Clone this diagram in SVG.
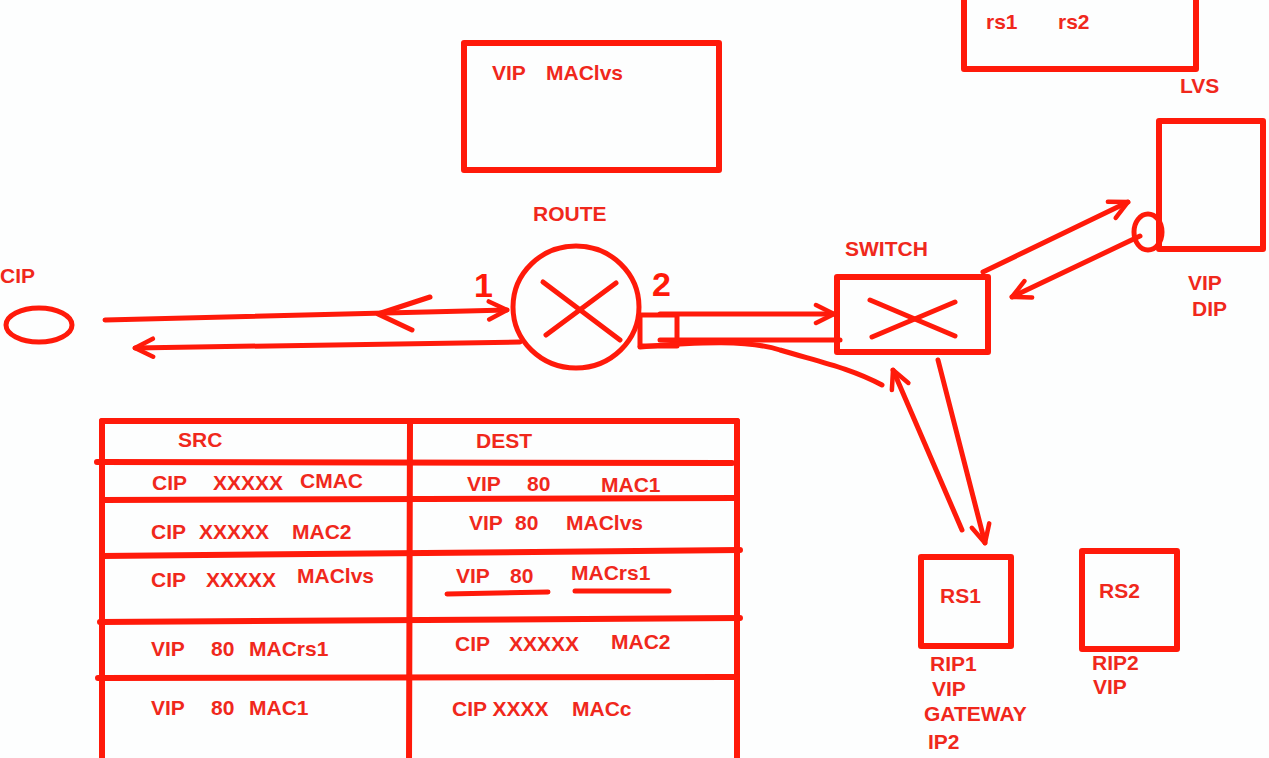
<svg xmlns="http://www.w3.org/2000/svg" width="1269" height="758" viewBox="0 0 1269 758">
<style>
.b{fill:none;stroke:#ff1a0a;stroke-width:6;stroke-linecap:round;stroke-linejoin:round}
.l{fill:none;stroke:#ff1a0a;stroke-width:5;stroke-linecap:round;stroke-linejoin:round}
.t{font-family:"Liberation Sans",Arial,sans-serif;font-weight:bold;font-size:21px;fill:#f0281c}
.n{font-family:"Liberation Sans",Arial,sans-serif;font-weight:bold;font-size:34px;fill:#ff1a0a}
</style>
<defs>
<marker id="arr" viewBox="0 0 24 24" refX="21" refY="12" markerWidth="24" markerHeight="24" markerUnits="userSpaceOnUse" orient="auto">
<path d="M3,3 L21,12 L3,21" fill="none" stroke="#ff1a0a" stroke-width="4.5" stroke-linecap="round" stroke-linejoin="round"/>
</marker>
</defs>
<rect width="1269" height="758" fill="#fdfefe"/>

<g id="vip-box">
<rect class="b" x="464" y="43" width="255" height="127"/>
<text class="t" x="492" y="80">VIP</text>
<text class="t" x="546" y="80">MAClvs</text>
</g>

<g id="rs-box">
<rect class="b" x="964" y="-10" width="232" height="79"/>
<text class="t" x="986" y="29">rs1</text>
<text class="t" x="1058" y="29">rs2</text>
</g>

<g id="lvs">
<text class="t" x="1180" y="93">LVS</text>
<rect class="b" x="1159" y="121" width="104" height="128"/>
<ellipse class="l" cx="1148" cy="232" rx="14" ry="18"/>
<text class="t" x="1188" y="290">VIP</text>
<text class="t" x="1192" y="316">DIP</text>
</g>

<g id="cip">
<text class="t" x="0" y="283">CIP</text>
<ellipse class="l" cx="39" cy="325" rx="33" ry="17"/>
</g>

<g id="route">
<text class="t" x="533" y="221">ROUTE</text>
<ellipse class="l" cx="576" cy="307" rx="63" ry="61"/>
<line class="l" x1="543" y1="282" x2="620" y2="340"/>
<line class="l" x1="546" y1="335" x2="616" y2="283"/>
<text class="n" x="474" y="297">1</text>
<text class="n" x="652" y="296">2</text>
<rect class="l" x="640" y="315" width="37" height="31"/>
</g>

<g id="switch">
<text class="t" x="845" y="256">SWITCH</text>
<rect class="b" x="837" y="277" width="151" height="75"/>
<line class="l" x1="870" y1="300" x2="955" y2="336"/>
<line class="l" x1="872" y1="337" x2="955" y2="302"/>
</g>

<g id="rs1">
<rect class="b" x="921" y="557" width="90" height="89"/>
<text class="t" x="940" y="603">RS1</text>
<text class="t" x="930" y="671">RIP1</text>
<text class="t" x="932" y="696">VIP</text>
<text class="t" x="924" y="721">GATEWAY</text>
<text class="t" x="928" y="749">IP2</text>
</g>

<g id="rs2">
<rect class="b" x="1082" y="551" width="95" height="98"/>
<text class="t" x="1099" y="598">RS2</text>
<text class="t" x="1092" y="670">RIP2</text>
<text class="t" x="1093" y="694">VIP</text>
</g>

<g id="connectors">
<path class="l" d="M105,320 L507,310" marker-end="url(#arr)"/>
<path class="l" d="M430,297 L378,314 L412,330"/>
<path class="l" d="M520,342 L135,348" marker-end="url(#arr)"/>
<path class="l" d="M660,314 L834,314" marker-end="url(#arr)"/>
<path class="l" d="M660,340 L840,340"/>
<path class="l" d="M640,347 C700,342 750,340 780,350 C820,362 850,368 882,385"/>
<path class="l" d="M962,530 L893,370" marker-end="url(#arr)"/>
<path class="l" d="M938,360 L985,543" marker-end="url(#arr)"/>
<path class="l" d="M983,272 L1128,202" marker-end="url(#arr)"/>
<path class="l" d="M1140,236 L1012,297" marker-end="url(#arr)"/>
</g>

<g id="table">
<line class="b" x1="102" y1="421" x2="102" y2="765"/>
<line class="b" x1="737" y1="421" x2="737" y2="765"/>
<line class="b" x1="410" y1="422" x2="409" y2="765"/>
<line class="b" x1="102" y1="421" x2="737" y2="421"/>
<line class="b" x1="97" y1="462" x2="732" y2="463"/>
<line class="b" x1="102" y1="500" x2="735" y2="498"/>
<line class="b" x1="102" y1="556" x2="740" y2="550"/>
<line class="b" x1="100" y1="622" x2="740" y2="618"/>
<line class="b" x1="98" y1="678" x2="737" y2="677"/>
<text class="t" x="178" y="447">SRC</text>
<text class="t" x="476" y="448">DEST</text>

<text class="t" x="152" y="490">CIP</text>
<text class="t" x="213" y="490">XXXXX</text>
<text class="t" x="300" y="488">CMAC</text>
<text class="t" x="467" y="491">VIP</text>
<text class="t" x="527" y="491">80</text>
<text class="t" x="601" y="492">MAC1</text>

<text class="t" x="151" y="539">CIP</text>
<text class="t" x="199" y="539">XXXXX</text>
<text class="t" x="292" y="539">MAC2</text>
<text class="t" x="469" y="530">VIP</text>
<text class="t" x="515" y="530">80</text>
<text class="t" x="566" y="530">MAClvs</text>

<text class="t" x="151" y="587">CIP</text>
<text class="t" x="206" y="587">XXXXX</text>
<text class="t" x="297" y="583">MAClvs</text>
<text class="t" x="456" y="583">VIP</text>
<text class="t" x="510" y="583">80</text>
<text class="t" x="571" y="580">MACrs1</text>
<line class="l" x1="447" y1="594" x2="548" y2="592"/>
<line class="l" x1="575" y1="591" x2="669" y2="591"/>

<text class="t" x="151" y="656">VIP</text>
<text class="t" x="211" y="656">80</text>
<text class="t" x="249" y="656">MACrs1</text>
<text class="t" x="455" y="651">CIP</text>
<text class="t" x="509" y="651">XXXXX</text>
<text class="t" x="611" y="649">MAC2</text>

<text class="t" x="151" y="715">VIP</text>
<text class="t" x="211" y="715">80</text>
<text class="t" x="249" y="715">MAC1</text>
<text class="t" x="452" y="716">CIP XXXX</text>
<text class="t" x="572" y="716">MACc</text>
</g>
</svg>
